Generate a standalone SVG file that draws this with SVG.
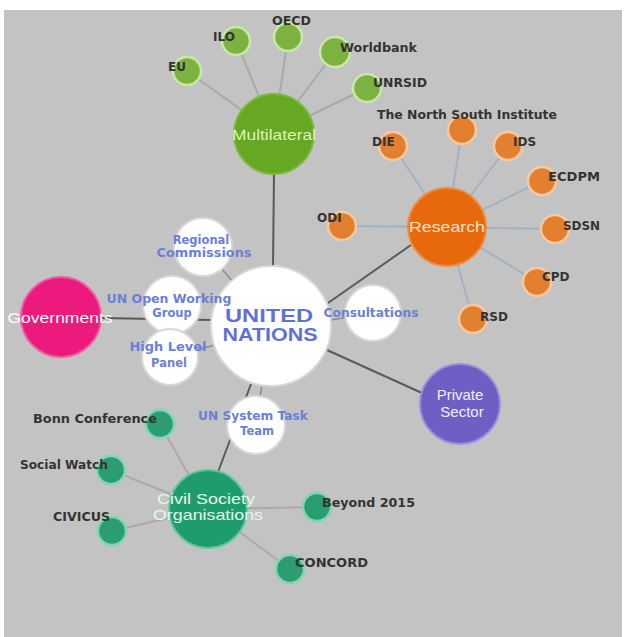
<svg xmlns="http://www.w3.org/2000/svg" width="625" height="637" viewBox="0 0 625 637">
<style>
.bg{fill:#c3c3c3}
.main{stroke:#5a5a5a;stroke-width:2;fill:none}
.leafl{stroke:#a6a9ad;stroke-width:2;fill:none}
.leafr{stroke:#a3b2c2;stroke-width:2;fill:none}
.leafc{stroke:#b3a6a8;stroke-width:2;fill:none}
.wl{stroke:#8c8c8c;stroke-width:1.5;fill:none}
.wn{fill:#ffffff;stroke:#d8d8d8;stroke-width:2}
.gl{fill:#7db240;stroke:#c9e8a6;stroke-width:2.5}
.ol{fill:#e2802f;stroke:#f7c9a1;stroke-width:2.5}
.cl{fill:#2c9d70;stroke:#7fd6b2;stroke-width:2.5}
.lt{font-family:"DejaVu Sans",sans-serif;font-weight:bold;font-size:12px;fill:#333333}
.wt{font-family:"DejaVu Sans",sans-serif;font-weight:bold;font-size:11.5px;fill:#6b7fd6;text-anchor:middle}
.mt{font-family:"Liberation Sans",Arial,sans-serif;font-size:15px;text-anchor:middle}
.un{font-family:"Liberation Sans",Arial,sans-serif;font-weight:bold;font-size:18px;fill:#5f72d2;text-anchor:middle}
</style>
<rect class="bg" x="4" y="10" width="618" height="627"/>
<g id="connectors">
  <line class="main" x1="273" y1="266" x2="274" y2="174"/>
  <line class="main" x1="328" y1="303" x2="411" y2="245"/>
  <line class="main" x1="327" y1="350" x2="422" y2="393"/>
  <line class="main" x1="100" y1="318" x2="212" y2="320"/>
  <line class="main" x1="251" y1="384" x2="218" y2="472"/>
  <line class="wl" x1="203" y1="247" x2="271" y2="326"/>
  <line class="wl" x1="256" y1="425" x2="262" y2="384"/>
  <line class="wl" x1="373" y1="313" x2="331" y2="320"/>
  <line class="wl" x1="170" y1="357" x2="215" y2="345"/>
  <line class="leafl" x1="187" y1="71" x2="274" y2="133"/>
  <line class="leafl" x1="236" y1="41" x2="274" y2="133"/>
  <line class="leafl" x1="288" y1="37" x2="274" y2="133"/>
  <line class="leafl" x1="335" y1="52" x2="274" y2="133"/>
  <line class="leafl" x1="367" y1="88" x2="274" y2="133"/>
  <line class="leafr" x1="393" y1="146" x2="447" y2="227"/>
  <line class="leafr" x1="462" y1="130" x2="447" y2="227"/>
  <line class="leafr" x1="508" y1="146" x2="447" y2="227"/>
  <line class="leafr" x1="542" y1="181" x2="447" y2="227"/>
  <line class="leafr" x1="555" y1="229" x2="447" y2="227"/>
  <line class="leafr" x1="537" y1="282" x2="447" y2="227"/>
  <line class="leafr" x1="473" y1="319" x2="447" y2="227"/>
  <line class="leafr" x1="342" y1="226" x2="447" y2="227"/>
  <line class="leafc" x1="160" y1="424" x2="208" y2="509"/>
  <line class="leafc" x1="111" y1="470" x2="208" y2="509"/>
  <line class="leafc" x1="112" y1="531" x2="208" y2="509"/>
  <line class="leafc" x1="317" y1="507" x2="208" y2="509"/>
  <line class="leafc" x1="290" y1="569" x2="208" y2="509"/>
</g>
<g id="n-multilateral">
  <circle cx="274" cy="134" r="40" fill="#66a824" stroke="#7cb83a" stroke-width="2"/>
  <text class="mt" x="274" y="140" fill="#dcf5b8" font-size="16" textLength="84" lengthAdjust="spacingAndGlyphs">Multilateral</text>
</g>
<g id="n-eu"><circle class="gl" cx="187" cy="71" r="14"/><text class="lt" x="168" y="71">EU</text></g>
<g id="n-ilo"><circle class="gl" cx="236" cy="41" r="14"/><text class="lt" x="213" y="41">ILO</text></g>
<g id="n-oecd"><circle class="gl" cx="288" cy="37" r="14"/><text class="lt" x="272" y="25" textLength="39" lengthAdjust="spacingAndGlyphs">OECD</text></g>
<g id="n-worldbank"><circle class="gl" cx="335" cy="52" r="15"/><text class="lt" x="340" y="52" textLength="77" lengthAdjust="spacingAndGlyphs">Worldbank</text></g>
<g id="n-unrsid"><circle class="gl" cx="367" cy="88" r="14"/><text class="lt" x="373" y="87" textLength="54" lengthAdjust="spacingAndGlyphs">UNRSID</text></g>
<g id="n-research">
  <circle cx="447" cy="227" r="39" fill="#e8680c" stroke="#f08a3c" stroke-width="2"/>
  <text class="mt" x="447" y="232" fill="#ffe6cf" font-size="17" textLength="76" lengthAdjust="spacingAndGlyphs">Research</text>
</g>
<g id="n-die"><circle class="ol" cx="393" cy="146" r="14"/><text class="lt" x="372" y="146">DIE</text></g>
<g id="n-nsi"><circle class="ol" cx="462" cy="130" r="14"/><text class="lt" x="377" y="119" textLength="180" lengthAdjust="spacingAndGlyphs">The North South Institute</text></g>
<g id="n-ids"><circle class="ol" cx="508" cy="146" r="14"/><text class="lt" x="513" y="146">IDS</text></g>
<g id="n-ecdpm"><circle class="ol" cx="542" cy="181" r="14"/><text class="lt" x="548" y="181" textLength="52" lengthAdjust="spacingAndGlyphs">ECDPM</text></g>
<g id="n-sdsn"><circle class="ol" cx="555" cy="229" r="14"/><text class="lt" x="563" y="230" textLength="37" lengthAdjust="spacingAndGlyphs">SDSN</text></g>
<g id="n-cpd"><circle class="ol" cx="537" cy="282" r="14"/><text class="lt" x="542" y="281">CPD</text></g>
<g id="n-rsd"><circle class="ol" cx="473" cy="319" r="14"/><text class="lt" x="480" y="321">RSD</text></g>
<g id="n-odi"><circle class="ol" cx="342" cy="226" r="14"/><text class="lt" x="317" y="222">ODI</text></g>
<g id="n-governments">
  <circle cx="61" cy="317" r="40" fill="#ec1a7c" stroke="#f05aa0" stroke-width="2"/>
  <text class="mt" x="60" y="323" fill="#ffffff" font-size="16" textLength="105" lengthAdjust="spacingAndGlyphs">Governments</text>
</g>
<g id="n-private">
  <circle cx="460" cy="404" r="40" fill="#6f5fc4" stroke="#9a8fdc" stroke-width="2"/>
  <text class="mt" x="460" y="400" fill="#f2f0ff" font-size="16">Private</text>
  <text class="mt" x="462" y="417" fill="#f2f0ff" font-size="16">Sector</text>
</g>
<g id="n-cso">
  <circle cx="208" cy="509" r="39" fill="#1f9c6c" stroke="#5cc89a" stroke-width="2"/>
  <text class="mt" x="206" y="504" fill="#e4f7ee" font-size="14" textLength="98" lengthAdjust="spacingAndGlyphs">Civil Society</text>
  <text class="mt" x="208" y="520" fill="#e4f7ee" font-size="14" textLength="110" lengthAdjust="spacingAndGlyphs">Organisations</text>
</g>
<g id="n-bonn"><circle class="cl" cx="160" cy="424" r="14"/><text class="lt" x="33" y="423" textLength="124" lengthAdjust="spacingAndGlyphs">Bonn Conference</text></g>
<g id="n-socialwatch"><circle class="cl" cx="111" cy="470" r="14"/><text class="lt" x="20" y="469" textLength="88" lengthAdjust="spacingAndGlyphs">Social Watch</text></g>
<g id="n-civicus"><circle class="cl" cx="112" cy="531" r="14"/><text class="lt" x="53" y="521" textLength="57" lengthAdjust="spacingAndGlyphs">CIVICUS</text></g>
<g id="n-beyond"><circle class="cl" cx="317" cy="507" r="14"/><text class="lt" x="322" y="507" textLength="93" lengthAdjust="spacingAndGlyphs">Beyond 2015</text></g>
<g id="n-concord"><circle class="cl" cx="290" cy="569" r="14"/><text class="lt" x="295" y="567" textLength="73" lengthAdjust="spacingAndGlyphs">CONCORD</text></g>
<g id="n-regional">
  <circle class="wn" cx="203" cy="247" r="29"/>
  <text class="wt" x="201" y="244">Regional</text>
  <text class="wt" x="204" y="257" textLength="95" lengthAdjust="spacingAndGlyphs">Commissions</text>
</g>
<g id="n-un">
  <circle class="wn" cx="271" cy="326" r="60"/>
  <text class="un" x="269" y="322" textLength="88" lengthAdjust="spacingAndGlyphs">UNITED</text>
  <text class="un" x="270" y="341" textLength="95" lengthAdjust="spacingAndGlyphs">NATIONS</text>
</g>
<g id="n-owg">
  <circle class="wn" cx="172" cy="305" r="29"/>
  <text class="wt" x="169" y="303" textLength="125" lengthAdjust="spacingAndGlyphs">UN Open Working</text>
  <text class="wt" x="172" y="317">Group</text>
</g>
<g id="n-hlp">
  <circle class="wn" cx="170" cy="357" r="28"/>
  <text class="wt" x="168" y="351" textLength="77" lengthAdjust="spacingAndGlyphs">High Level</text>
  <text class="wt" x="169" y="367">Panel</text>
</g>
<g id="n-consult">
  <circle class="wn" cx="373" cy="313" r="28"/>
  <text class="wt" x="371" y="317" textLength="95" lengthAdjust="spacingAndGlyphs">Consultations</text>
</g>
<g id="n-unstt">
  <circle class="wn" cx="256" cy="425" r="29"/>
  <text class="wt" x="253" y="420" textLength="110" lengthAdjust="spacingAndGlyphs">UN System Task</text>
  <text class="wt" x="257" y="435">Team</text>
</g>
</svg>
